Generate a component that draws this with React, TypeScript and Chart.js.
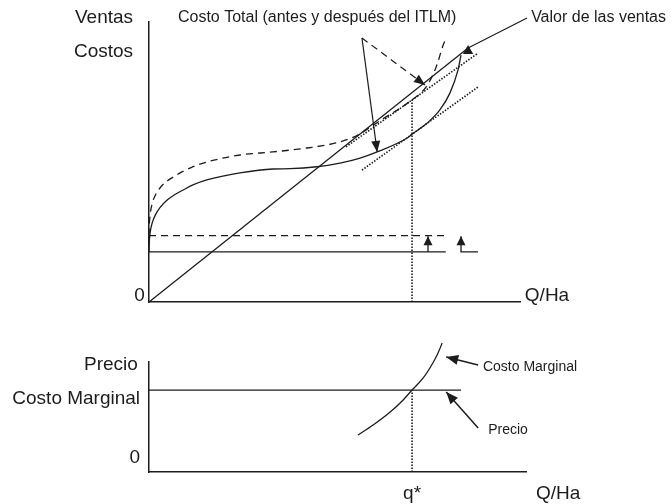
import React, { useEffect, useRef } from "react";
import { Chart, registerables } from "chart.js";

Chart.register(...registerables);

// ---------- Top panel data (Q/Ha vs Ventas/Costos) ----------
const salesQ = [0, 86];
const salesV = [0, 90.7];

const fixedQ = [0, 80];
const fixedBefore = [17.9, 17.9];
const fixedAfter = [23.7, 23.7];

const tcBeforeQ = [0, 0.05, 0.2, 0.5, 1, 1.8, 3, 4.9, 7, 9.2, 12, 15.6, 24.5, 33.4, 38, 45.3, 51.5, 56.9, 61.5, 69.5, 70.9, 74.9, 78.4, 81.1, 83.3, 84.1];
const tcBeforeC = [17.9, 20.5, 23.5, 26.3, 28.8, 31.3, 33.8, 36.4, 38.4, 40, 41.9, 43.6, 46.1, 47.5, 47.6, 48.3, 49.6, 51.4, 53.6, 58.5, 59.9, 63.8, 68.6, 74.6, 82.9, 88.2];

const tcAfterQ = [0, 0.05, 0.2, 0.5, 1, 1.8, 3, 4.5, 6.5, 8.4, 11.5, 15.6, 24.5, 33.4, 42.6, 50.4, 55.8, 62.3, 70.9, 74.7, 77.4, 79.2, 80.1];
const tcAfterC = [23.7, 26.5, 29.8, 33, 35.8, 38.4, 40.8, 42.8, 44.6, 46.1, 48.1, 50, 52.5, 53.6, 55, 56.8, 59.3, 64.8, 72.2, 76.8, 83.9, 91.4, 94.3];

const tangentAfterQ = [53.1, 88.7];
const tangentAfterC = [55.4, 88.9];
const tangentBeforeQ = [57.4, 88.7];
const tangentBeforeC = [47.1, 76.8];

const qStar = 70.9;
const qStarTopC = [0, 72.2];

// annotation arrows (top)
const arrowSolidQ = [57.4, 61.5];
const arrowSolidC = [94.3, 53.6];
const arrowDashedQ = [57.4, 74.4];
const arrowDashedC = [94.3, 77.5];
const taxArrow1Q = [75.2, 75.2];
const taxArrow1C = [17.9, 23.5];
const taxArrow2Q = [88.7, 84.1, 84.1];
const taxArrow2C = [17.9, 17.9, 23.5];
const salesLeaderQ = [101.9, 86];
const salesLeaderC = [101.4, 90.7];
const salesMarkQ = [86];
const salesMarkC = [89.6];

// ---------- Bottom panel data (Precio / Costo Marginal) ----------
const priceQ = [0, 84.1];
const priceP = [74.5, 74.5];
const mcQ = [56.3, 60.4, 65, 68.5, 70.9, 73.9, 76.5, 77.9, 79];
const mcP = [33.6, 42.7, 54.5, 65.5, 74.5, 85.5, 99.1, 108.2, 117.3];
const qStarBottomP = [0, 74.5];
const mcArrowQ = [88.7, 80.1];
const mcArrowP = [97.3, 104.5];
const priceArrowQ = [88.7, 80.1];
const priceArrowP = [40, 72.7];

const INK = "#1c1c1c";
const FONT = "'Liberation Sans', Arial, Helvetica, sans-serif";

const pts = (xs: number[], ys: number[]) => xs.map((x, i) => ({ x, y: ys[i] }));

const arrowPlugin = {
  id: "arrowHeads",
  afterDatasetsDraw(chart: any) {
    const ctx = chart.ctx;
    chart.data.datasets.forEach((ds: any, i: number) => {
      if (!ds.arrowHead) return;
      const meta = chart.getDatasetMeta(i);
      const n = meta.data.length;
      const a = meta.data[n - 2];
      const b = meta.data[n - 1];
      const ang = Math.atan2(b.y - a.y, b.x - a.x);
      const L = ds.arrowLength ?? 11;
      const W = ds.arrowWidth ?? 4.5;
      const c = Math.cos(ang), s = Math.sin(ang);
      ctx.save();
      ctx.fillStyle = INK;
      ctx.beginPath();
      ctx.moveTo(b.x, b.y);
      ctx.lineTo(b.x - L * c + W * s, b.y - L * s - W * c);
      ctx.lineTo(b.x - L * c - W * s, b.y - L * s + W * c);
      ctx.closePath();
      ctx.fill();
      ctx.restore();
    });
  },
};

const textPlugin = {
  id: "texts",
  afterDraw(chart: any, _args: any, opts: any) {
    const ctx = chart.ctx;
    const xs = chart.scales.x;
    const ys = chart.scales.y;
    ctx.save();
    ctx.fillStyle = INK;
    ctx.textBaseline = "middle";
    (opts.items || []).forEach((it: any) => {
      ctx.font = `${it.size}px ${FONT}`;
      ctx.textAlign = it.align || "left";
      ctx.fillText(it.text, xs.getPixelForValue(it.x), ys.getPixelForValue(it.y));
    });
    ctx.restore();
  },
};

const lineDs = (data: any[], extra: any = {}) => ({
  data,
  showLine: true,
  borderColor: INK,
  backgroundColor: INK,
  borderWidth: 1.3,
  pointRadius: 0,
  fill: false,
  clip: false,
  ...extra,
});

const axisScale = (min: number, max: number) => ({
  type: "linear" as const,
  min,
  max,
  ticks: { display: false },
  grid: { display: false, drawTicks: false },
  border: { display: true, color: INK, width: 1.5 },
});

function makeOptions(xMax: number, padding: any, items: any[]) {
  return {
    responsive: false,
    maintainAspectRatio: false,
    animation: false as const,
    events: [] as any[],
    layout: { padding },
    scales: { x: axisScale(0, xMax), y: axisScale(0, 100) },
    plugins: { legend: { display: false }, tooltip: { enabled: false }, texts: { items } },
  };
}

const topItems = [
  { text: "Ventas", x: -4.3, y: 101.4, align: "right", size: 19 },
  { text: "Costos", x: -4.3, y: 89.3, align: "right", size: 19 },
  { text: "0", x: -1.1, y: 2.1, align: "right", size: 19 },
  { text: "Q/Ha", x: 101.3, y: 2.1, align: "left", size: 19 },
  { text: "Costo Total (antes y después del ITLM)", x: 7.8, y: 101.4, align: "left", size: 16 },
  { text: "Valor de las ventas", x: 103, y: 101.4, align: "left", size: 16 },
];

const bottomItems = [
  { text: "Precio", x: -3, y: 97.3, align: "right", size: 19 },
  { text: "Costo Marginal", x: -2.4, y: 66.4, align: "right", size: 19 },
  { text: "0", x: -2.4, y: 12.7, align: "right", size: 19 },
  { text: "q*", x: qStar, y: -19.5, align: "center", size: 19 },
  { text: "Q/Ha", x: 104.3, y: -19.5, align: "left", size: 19 },
  { text: "Costo Marginal", x: 90, y: 95.5, align: "left", size: 14 },
  { text: "Precio", x: 91.4, y: 38.2, align: "left", size: 14 },
];

export default function App() {
  const topRef = useRef<HTMLCanvasElement>(null);
  const botRef = useRef<HTMLCanvasElement>(null);

  useEffect(() => {
    const dashed = [7, 5];
    const dotted = [1.5, 1.5];
    const top = new Chart(topRef.current as HTMLCanvasElement, {
      type: "scatter",
      data: {
        datasets: [
          lineDs(pts(salesQ, salesV)),
          lineDs(pts(fixedQ, fixedBefore)),
          lineDs(pts(fixedQ, fixedAfter), { borderDash: dashed }),
          lineDs(pts(tcBeforeQ, tcBeforeC), { cubicInterpolationMode: "monotone" }),
          lineDs(pts(tcAfterQ, tcAfterC), { cubicInterpolationMode: "monotone", borderDash: dashed }),
          lineDs(pts(tangentAfterQ, tangentAfterC), { borderDash: dotted, borderWidth: 1.6 }),
          lineDs(pts(tangentBeforeQ, tangentBeforeC), { borderDash: dotted, borderWidth: 1.6 }),
          lineDs(pts([qStar, qStar], qStarTopC), { borderDash: dotted, borderWidth: 1.6 }),
          lineDs(pts(arrowSolidQ, arrowSolidC), { arrowHead: true, borderWidth: 1.2 }),
          lineDs(pts(arrowDashedQ, arrowDashedC), { arrowHead: true, borderDash: dashed, borderWidth: 1.2 }),
          lineDs(pts(taxArrow1Q, taxArrow1C), { arrowHead: true, arrowLength: 9, arrowWidth: 4.5 }),
          lineDs(pts(taxArrow2Q, taxArrow2C), { arrowHead: true, arrowLength: 9, arrowWidth: 4.5 }),
          lineDs(pts(salesLeaderQ, salesLeaderC), { borderWidth: 1.2 }),
          {
            data: pts(salesMarkQ, salesMarkC),
            pointStyle: "triangle",
            pointRadius: 6,
            backgroundColor: INK,
            borderColor: INK,
            borderWidth: 0,
            clip: false,
          },
        ] as any,
      },
      options: makeOptions(100, { left: 149, right: 152, top: 22, bottom: 18 }, topItems) as any,
      plugins: [arrowPlugin, textPlugin],
    });

    const bottom = new Chart(botRef.current as HTMLCanvasElement, {
      type: "scatter",
      data: {
        datasets: [
          lineDs(pts(priceQ, priceP)),
          lineDs(pts(mcQ, mcP), { cubicInterpolationMode: "monotone" }),
          lineDs(pts([qStar, qStar], qStarBottomP), { borderDash: dotted, borderWidth: 1.6 }),
          lineDs(pts(mcArrowQ, mcArrowP), { arrowHead: true, borderWidth: 1.5, arrowLength: 12, arrowWidth: 5 }),
          lineDs(pts(priceArrowQ, priceArrowP), { arrowHead: true, borderWidth: 1.5, arrowLength: 12, arrowWidth: 5 }),
        ] as any,
      },
      options: makeOptions(101.6, { left: 149, right: 146, top: 42, bottom: 32 }, bottomItems) as any,
      plugins: [arrowPlugin, textPlugin],
    });

    return () => {
      top.destroy();
      bottom.destroy();
    };
  }, []);

  return (
    <div style={{ position: "fixed", left: 0, top: 0, width: 672, height: 504, background: "#fff" }}>
      <canvas ref={topRef} width={672} height={320} style={{ display: "block" }} />
      <canvas ref={botRef} width={672} height={184} style={{ display: "block" }} />
    </div>
  );
}
